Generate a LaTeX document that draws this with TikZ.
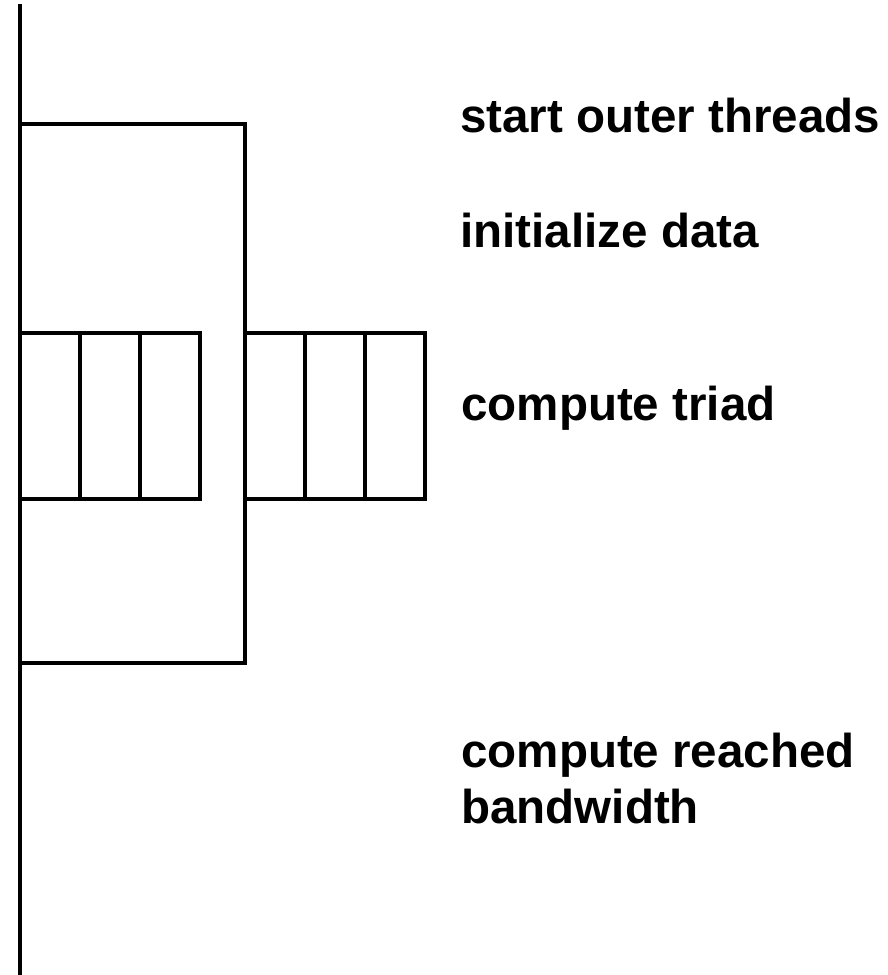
\documentclass[tikz,border=0pt]{standalone}
\usepackage{fontspec}
\setmainfont{Liberation Sans}
\usepackage{tikz}
\usetikzlibrary{positioning}
\tikzset{ligne/.style={line width=2.9pt,line cap=rect},
  etape/.style={anchor=base west,inner sep=0pt,font=\bfseries\fontsize{33.8}{39.8}\selectfont,align=left}}

\begin{document}
\begin{tikzpicture}[x=0.025cm,y=-0.025cm]%
\useasboundingbox (0,0) rectangle (888,975);%%
%%FIL PRINCIPAL
\draw[line width=2.9pt] (20,4) -- (20,975);%%
%%REGION PARALLELE
\draw[ligne] (20,124) -- (245,124) -- (245,663) -- (20,663);%%
%%BOUCLES
\draw[ligne] (20,333) rectangle (200,499);%%
\draw[ligne] (80,333) -- (80,499);%%
\draw[ligne] (140,333) -- (140,499);%%
\draw[ligne] (245,333) rectangle (425,499);%%
\draw[ligne] (305,333) -- (305,499);%%
\draw[ligne] (365,333) -- (365,499);%%
%%TEXTE
\node[etape] (start) at (460,132) {start outer threads};%%
\node[etape] (init) at (460,247) {initialize data};%%
\node[etape] (triad) at (461,420) {compute triad};%%
\node[etape] (bw) at (461,823) {compute reached\\bandwidth};%%
\end{tikzpicture}
\end{document}
